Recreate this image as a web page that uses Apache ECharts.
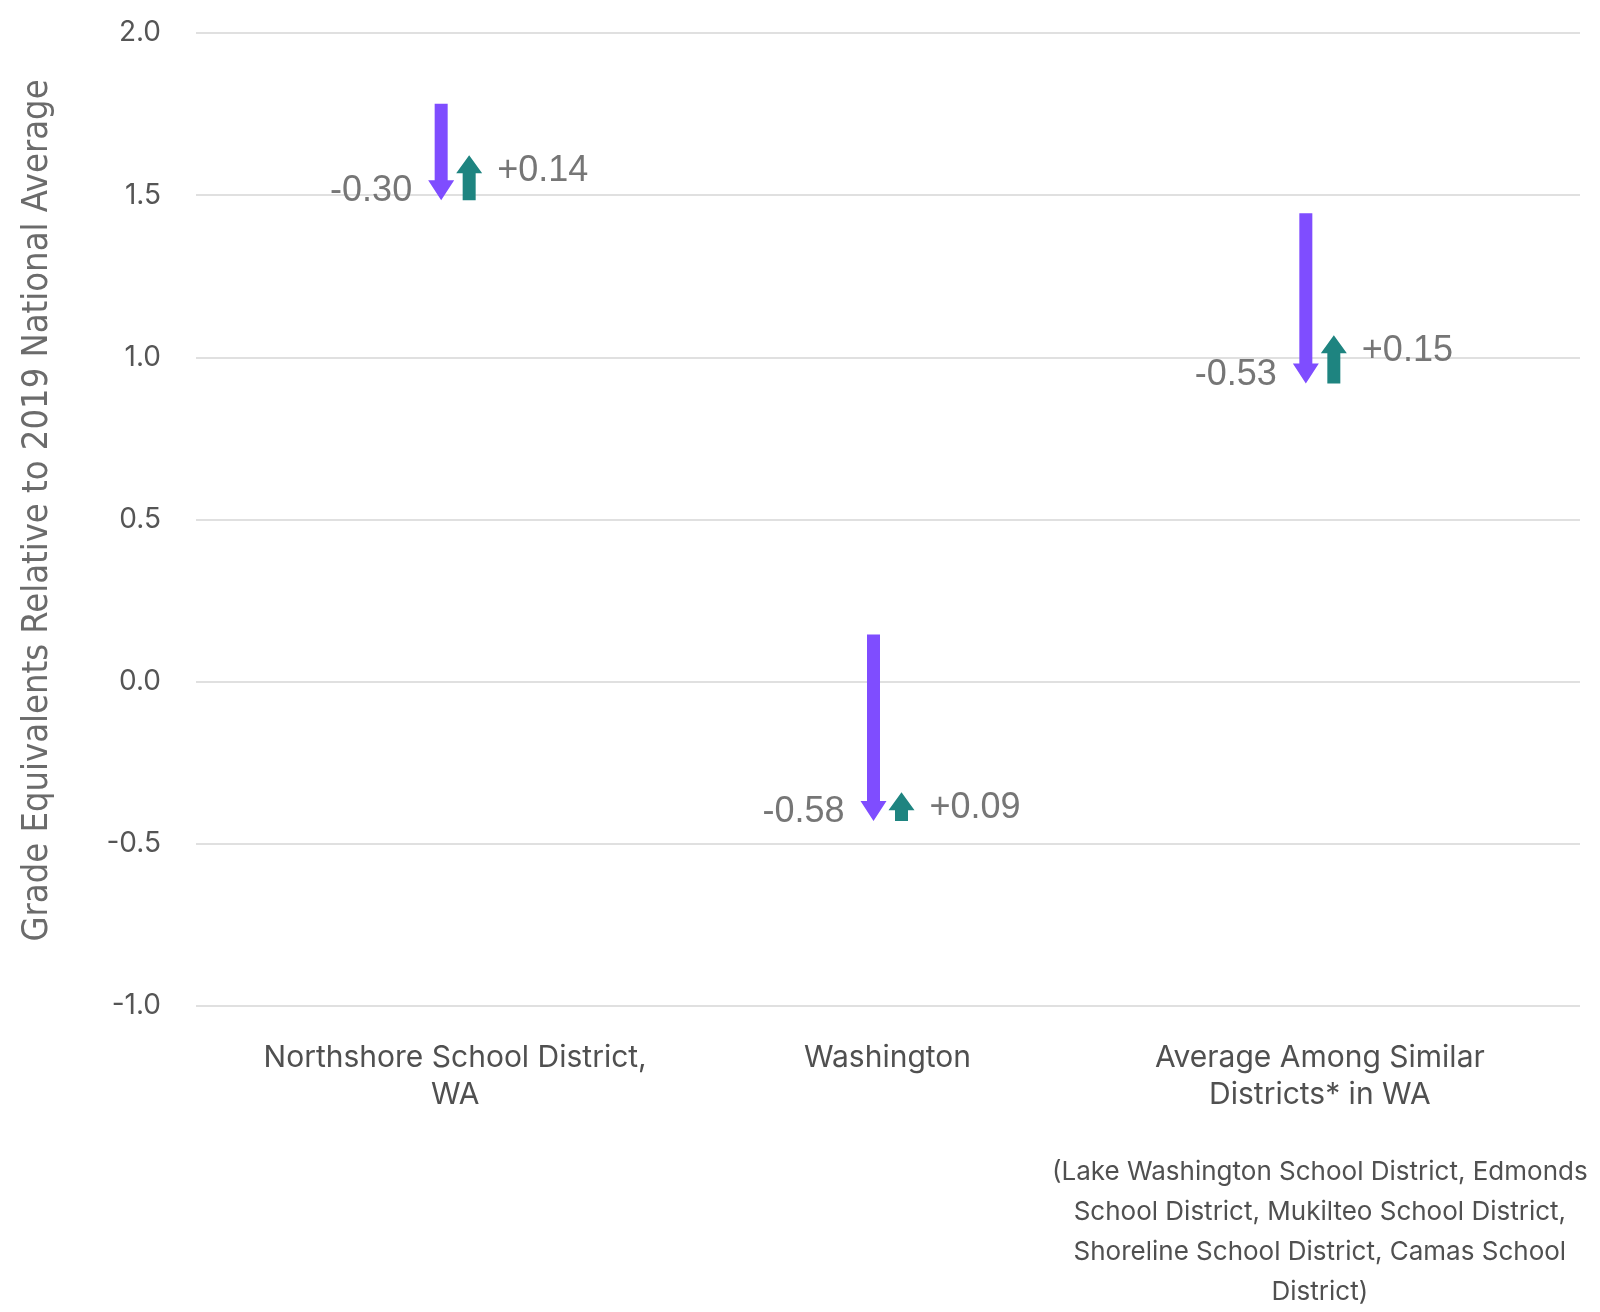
<!DOCTYPE html>
<html>
<head>
<meta charset="utf-8">
<script src="https://cdn.jsdelivr.net/npm/echarts@6/dist/echarts.min.js"></script>
<style>
html, body { margin: 0; padding: 0; background: #fff; }
#chart { width: 1600px; height: 1312px; }
</style>
</head>
<body>
<div id="chart"></div>
<script>
// categories and values
const categories = ["Northshore School District,\nWA", "Washington", "Average Among Similar\nDistricts* in WA"];
const districtNote = "(Lake Washington School District, Edmonds\nSchool District, Mukilteo School District,\nShoreline School District, Camas School\nDistrict)";
const startValues = [1.78, 0.13, 1.44];   // before decline
const declines = [-0.30, -0.58, -0.53];   // purple arrows
const recoveries = [0.14, 0.09, 0.15];    // teal arrows
const yMin = -1.0;
const yMax = 2.0;
const yStep = 0.5;

const PURPLE = "#7f4dff";
const TEAL = "#1e8480";
const LABEL_GRAY = "#767676";

// 箭头多边形 (pixel space)
function arrowPoints(x, yFrom, yTo, shaft, headW, headH) {
  const dir = yTo > yFrom ? 1 : -1;
  const neck = yTo - dir * headH;
  return [
    [x - shaft / 2, yFrom],
    [x + shaft / 2, yFrom],
    [x + shaft / 2, neck],
    [x + headW / 2, neck],
    [x, yTo],
    [x - headW / 2, neck],
    [x - shaft / 2, neck]
  ];
}

let declineData = [];
let recoveryData = [];
for (let i = 0; i < categories.length; i++) {
  let end = startValues[i] + declines[i];
  declineData.push([i, startValues[i], end, declines[i]]);
  recoveryData.push([i, end, end + recoveries[i], recoveries[i]]);
}

const chart = echarts.init(document.getElementById("chart"));
const option = {
  animation: false,
  grid: [
    // grid 0: y axis labels + full-width gridlines
    { left: 196, right: 20, top: 33, bottom: 306 },
    // grid 1: categories and arrows
    { left: 239, right: 64, top: 33, bottom: 306 }
  ],
  xAxis: [
    { gridIndex: 0, type: "category", data: categories, show: false },
    {
      gridIndex: 1,
      type: "category",
      data: categories,
      axisLine: { show: false },
      axisTick: { show: false },
      splitLine: { show: false },
      axisLabel: {
        interval: 0,
        margin: 41,
        color: "#505050",
        fontFamily: "Inter",
        fontSize: 30,
        lineHeight: 37,
        formatter: (value, index) => {
          if (index === 2) {
            return "{a|" + value + "}\n{gap| }\n{b|" + districtNote + "}";
          }
          return "{a|" + value + "}";
        },
        rich: {
          a: { fontFamily: "Inter", fontSize: 30, lineHeight: 37, color: "#505050" },
          gap: { fontSize: 10, lineHeight: 39 },
          b: { fontFamily: "Inter", fontSize: 26, lineHeight: 40, color: "#505050" }
        }
      }
    }
  ],
  yAxis: [
    {
      gridIndex: 0,
      type: "value",
      min: yMin,
      max: yMax,
      interval: yStep,
      name: "Grade Equivalents Relative to 2019 National Average",
      nameLocation: "middle",
      nameRotate: 90,
      nameGap: 140,
      nameTextStyle: {
        color: "#6b6b6b",
        fontFamily: "Liberation Sans Narrow, DejaVu Sans Condensed, Roboto",
        fontSize: 36,
        padding: [0, 0, 0, 18]
      },
      axisLine: { show: false },
      axisTick: { show: false },
      splitLine: { lineStyle: { color: "#e0e0e0", width: 2 } },
      axisLabel: {
        margin: 35,
        color: "#555",
        fontFamily: "Inter",
        fontSize: 28,
        formatter: v => v.toFixed(1)
      }
    },
    { gridIndex: 1, type: "value", min: yMin, max: yMax, interval: yStep, show: false }
  ],
  series: [
    {
      name: "Decline",
      type: "custom",
      xAxisIndex: 1,
      yAxisIndex: 1,
      data: declineData,
      renderItem: (params, api) => {
        const top = api.coord([api.value(0), api.value(1)]);
        const tip = api.coord([api.value(0), api.value(2)]);
        const x = top[0] - 14;
        return {
          type: "group",
          children: [
            {
              type: "polygon",
              shape: { points: arrowPoints(x, top[1], tip[1], 13, 26, 20) },
              style: { fill: PURPLE }
            },
            {
              type: "text",
              x: x - 29,
              y: tip[1] - 9,
              style: {
                text: api.value(3).toFixed(2),
                align: "right",
                verticalAlign: "middle",
                fill: LABEL_GRAY,
                fontFamily: "Liberation Sans, Arial",
                fontSize: 36
              }
            }
          ]
        };
      }
    },
    {
      name: "Recovery",
      type: "custom",
      xAxisIndex: 1,
      yAxisIndex: 1,
      data: recoveryData,
      renderItem: (params, api) => {
        const base = api.coord([api.value(0), api.value(1)]);
        const tip = api.coord([api.value(0), api.value(2)]);
        const x = base[0] + 14;
        return {
          type: "group",
          children: [
            {
              type: "polygon",
              shape: { points: arrowPoints(x, base[1], tip[1], 13, 26, 18) },
              style: { fill: TEAL }
            },
            {
              type: "text",
              x: x + 28,
              y: tip[1] + 16,
              style: {
                text: "+" + api.value(3).toFixed(2),
                align: "left",
                verticalAlign: "middle",
                fill: LABEL_GRAY,
                fontFamily: "Liberation Sans, Arial",
                fontSize: 36
              }
            }
          ]
        };
      }
    }
  ]
};
chart.setOption(option);
</script>
</body>
</html>
